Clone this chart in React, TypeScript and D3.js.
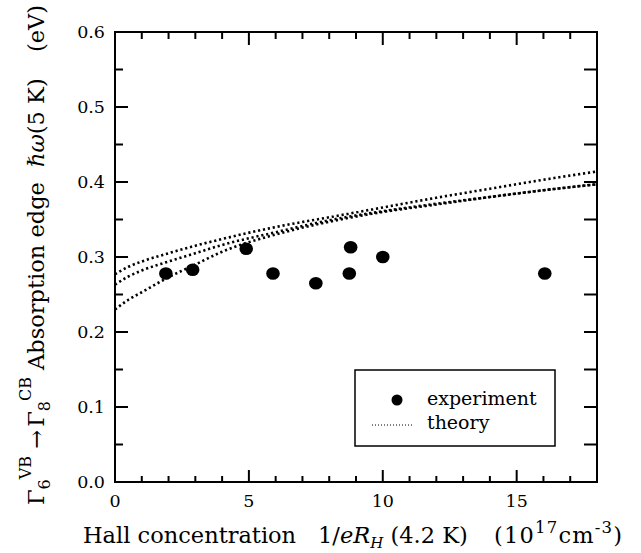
import React from "react";
import * as d3 from "d3";

const expN = [1.9, 2.9, 4.9, 5.9, 7.5, 8.75, 8.8, 10.0, 16.05];
const expE = [0.278, 0.283, 0.311, 0.278, 0.265, 0.278, 0.313, 0.300, 0.278];

const theoryN = [0, 0.5, 1, 2, 3, 4, 6, 8, 10, 12, 14, 16, 18];
const theoryA = [0.277, 0.287, 0.294, 0.305, 0.315, 0.324, 0.340, 0.353, 0.366, 0.379, 0.391, 0.403, 0.414];
const theoryB = [0.263, 0.274, 0.282, 0.294, 0.305, 0.316, 0.333, 0.349, 0.361, 0.371, 0.380, 0.389, 0.397];
const theoryC = [0.230, 0.243, 0.253, 0.273, 0.290, 0.307, 0.330, 0.347, 0.360, 0.370, 0.380, 0.389, 0.397];

const xTickLabels = [0, 5, 10, 15];
const yTickLabels = [0.0, 0.1, 0.2, 0.3, 0.4, 0.5, 0.6];

const W = 641, H = 553;
const L = 115, R = 597, T = 32, B = 482;
const FONT = "DejaVu Serif, Liberation Serif, serif";

export default function App() {
  const x = d3.scaleLinear().domain([0, 18]).range([L, R]);
  const y = d3.scaleLinear().domain([0, 0.6]).range([B, T]);
  const line = d3.line<[number, number]>().x(d => x(d[0])).y(d => y(d[1])).curve(d3.curveMonotoneX);
  const series = [theoryA, theoryB, theoryC];
  const xMinor = d3.range(1, 18);
  const yMinor = d3.range(1, 12).map(i => i * 0.05);

  return (
    <svg width={W} height={H} style={{ position: "absolute", left: 0, top: 0, background: "#fff", fontFamily: FONT }}>
      <rect x={0} y={0} width={W} height={H} fill="#fff" />
      <defs>
        <clipPath id="plot"><rect x={L} y={T} width={R - L} height={B - T} /></clipPath>
      </defs>
      <g clipPath="url(#plot)">
        {series.map((s, i) => (
          <path key={i} d={line(theoryN.map((n, j) => [n, s[j]]))!} fill="none" stroke="#000"
            strokeWidth={2.6} strokeDasharray="2.2 2.8" />
        ))}
      </g>
      {expN.map((n, i) => (
        <ellipse key={i} cx={x(n)} cy={y(expE[i])} rx={6.8} ry={6.3} fill="#000" />
      ))}
      <rect x={L} y={T} width={R - L} height={B - T} fill="none" stroke="#000" strokeWidth={2} />
      {xMinor.map(v => {
        const major = v % 5 === 0;
        const len = major ? 12 : 6;
        return (
          <g key={"xt" + v} stroke="#000" strokeWidth={2}>
            <line x1={x(v)} x2={x(v)} y1={B} y2={B - len} />
            <line x1={x(v)} x2={x(v)} y1={T} y2={T + (major ? 13 : 7)} />
          </g>
        );
      })}
      {yMinor.map((v, i) => {
        const major = (i + 1) % 2 === 0;
        return (
          <g key={"yt" + i} stroke="#000" strokeWidth={2}>
            <line x1={L} x2={L + (major ? 13 : 8)} y1={y(v)} y2={y(v)} />
            <line x1={R} x2={R - 13} y1={y(v)} y2={y(v)} />
          </g>
        );
      })}
      {xTickLabels.map(v => (
        <text key={"xl" + v} x={x(v)} y={507} textAnchor="middle" fontSize={17.5}>{v}</text>
      ))}
      {yTickLabels.map(v => (
        <text key={"yl" + v} x={105} y={y(v) + 6} textAnchor="end" fontSize={17.5}>{v.toFixed(1)}</text>
      ))}
      <text y={543} fontSize={22.5}>
        <tspan x={83}>Hall concentration</tspan>
      </text>
      <text y={543} fontSize={22.5} x={318}>
        <tspan>1/</tspan><tspan fontStyle="italic">eR</tspan>
        <tspan fontStyle="italic" fontSize={15} dy={5}>H</tspan>
        <tspan dy={-5}> (4.2 K)</tspan>
      </text>
      <text y={543} fontSize={22.5} x={494} letterSpacing={1.2}>
        <tspan>(10</tspan>
        <tspan fontSize={16.5} dy={-10}>17</tspan>
        <tspan dy={10}>cm</tspan>
        <tspan fontSize={16.5} dy={-10}>-3</tspan>
        <tspan dy={10}>)</tspan>
      </text>
      <g transform="translate(44,0) rotate(-90)" fontSize={22.5}>
        <text x={-505} y={0}>
          <tspan>Γ</tspan>
          <tspan fontSize={16} dy={6}>6</tspan>
          <tspan fontSize={16} dy={-19}>VB</tspan>
          <tspan dy={13}> →</tspan>
          <tspan dx={3}>Γ</tspan>
          <tspan fontSize={16} dy={6}>8</tspan>
          <tspan fontSize={16} dy={-19}>CB</tspan>
          <tspan dy={13}> Absorption edge</tspan>
        </text>
        <text x={-167} y={0}>
          <tspan fontStyle="italic">ℏω</tspan><tspan>(5 K)</tspan>
        </text>
        <text x={-52} y={0}>(eV)</text>
      </g>
      <rect x={355} y={370} width={200} height={76} fill="#fff" stroke="#000" strokeWidth={1.5} />
      <circle cx={397} cy={400} r={5.5} fill="#000" />
      <text x={427} y={405} fontSize={19}>experiment</text>
      <line x1={372} x2={412} y1={425} y2={425} stroke="#000" strokeWidth={1} strokeDasharray="1 2" />
      <text x={427} y={429} fontSize={19}>theory</text>
    </svg>
  );
}
